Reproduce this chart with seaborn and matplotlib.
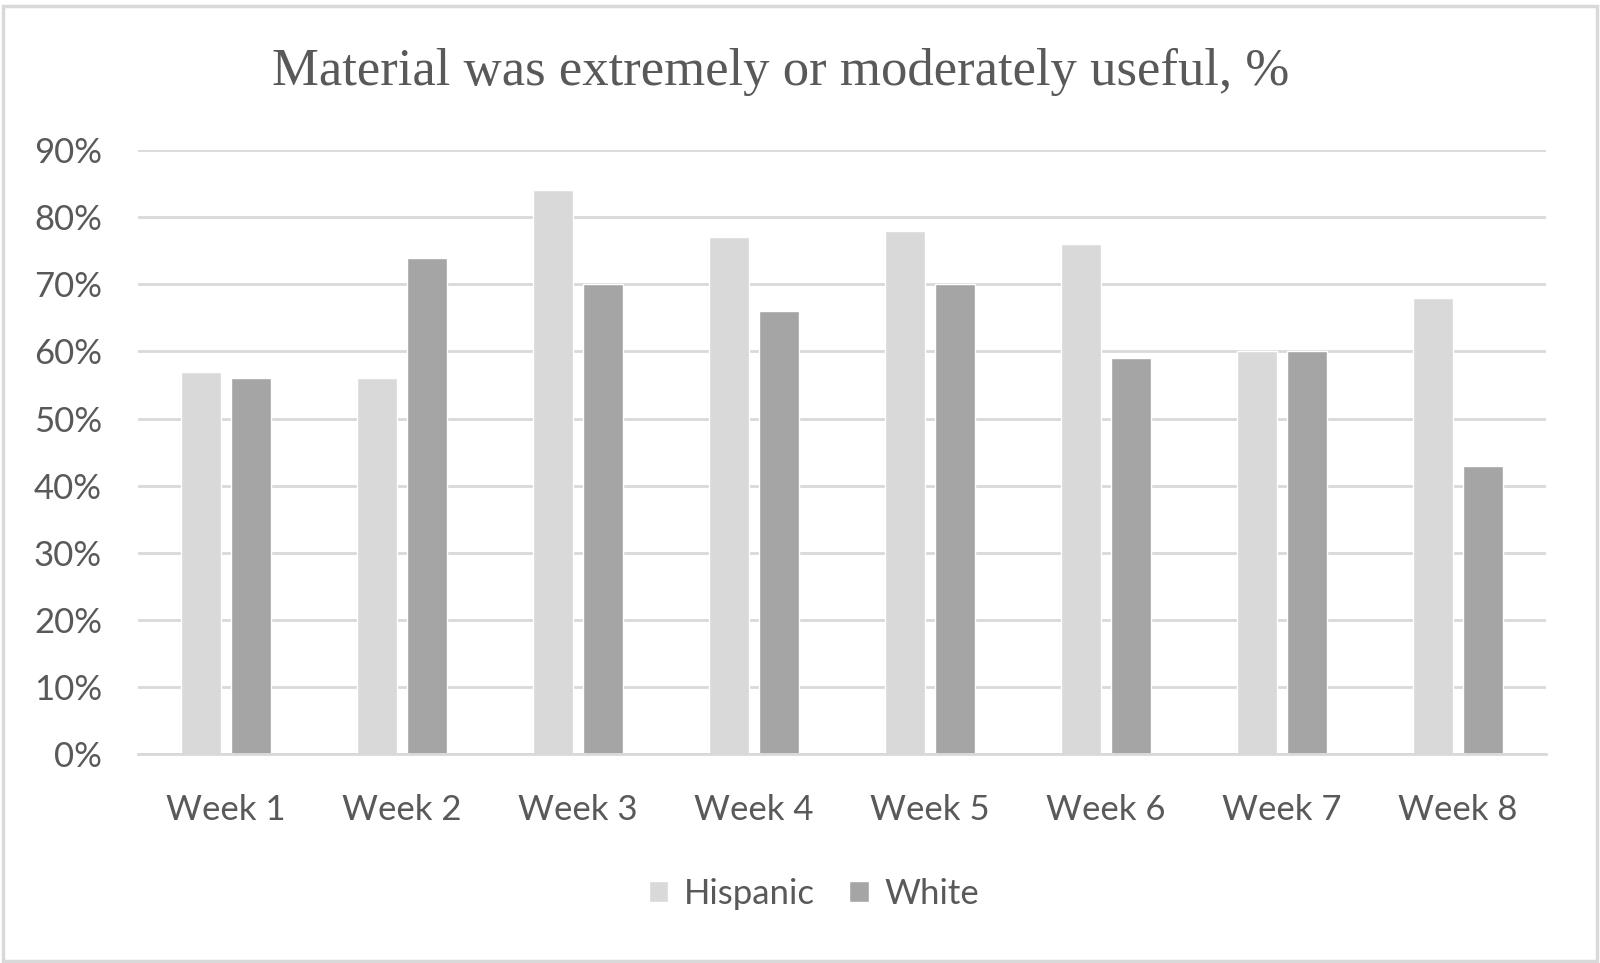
import seaborn as sns
import matplotlib.pyplot as plt
import pandas as pd
from matplotlib.patches import Rectangle

sns.set_style("white")
plt.rcParams['font.family'] = ['Lato', 'DejaVu Sans']

weeks = ["Week 1", "Week 2", "Week 3", "Week 4", "Week 5", "Week 6", "Week 7", "Week 8"]
hispanic = [57, 56, 84, 77, 78, 76, 60, 68]
white = [56, 74, 70, 66, 70, 59, 60, 43]
groups = ["Hispanic", "White"]
colors = ["#D9D9D9", "#A5A5A5"]

df = pd.DataFrame({
    "week": weeks * 2,
    "value": [v / 100 for v in hispanic + white],
    "group": [groups[0]] * len(weeks) + [groups[1]] * len(weeks),
})

text_color = "#595959"

fig = plt.figure(figsize=(16, 9.63), dpi=100)
ax = fig.add_axes([0.0863, 0.217, 0.88, 0.627])

sns.barplot(data=df, x="week", y="value", hue="group", palette=colors,
            width=0.57, gap=0.2, ax=ax, legend=True)

ax.set_ylim(0, 0.9)
ax.set_yticks([i / 10 for i in range(10)])
ax.set_yticklabels([f"{i*10}%" for i in range(10)])
ax.yaxis.grid(True, color="#D9D9D9", linewidth=2)
ax.set_axisbelow(True)
for s in ["top", "right", "left"]:
    ax.spines[s].set_visible(False)
ax.spines["bottom"].set_color("#D9D9D9")
ax.spines["bottom"].set_linewidth(2)
ax.tick_params(axis="both", length=0, labelsize=25, colors=text_color)
ax.tick_params(axis="x", pad=29)
ax.tick_params(axis="y", pad=26)
ax.set_xlabel("")
ax.set_ylabel("")

leg = ax.legend(loc="center", bbox_to_anchor=(0.48, -0.232), ncol=2, frameon=False,
                fontsize=25, handlelength=0.55, handleheight=0.55, handletextpad=0.45,
                columnspacing=1.0, labelcolor=text_color)

fig.text(0.488, 0.925, "Material was extremely or moderately useful, %",
         ha="center", va="center", fontsize=38, color=text_color,
         family=["Liberation Serif", "DejaVu Serif"])

fig.patches.append(Rectangle((0.002, 0.002), 0.996, 0.992, transform=fig.transFigure,
                             fill=False, edgecolor="#D9D9D9", linewidth=2.5))

fig.savefig("out.png", dpi=100)
